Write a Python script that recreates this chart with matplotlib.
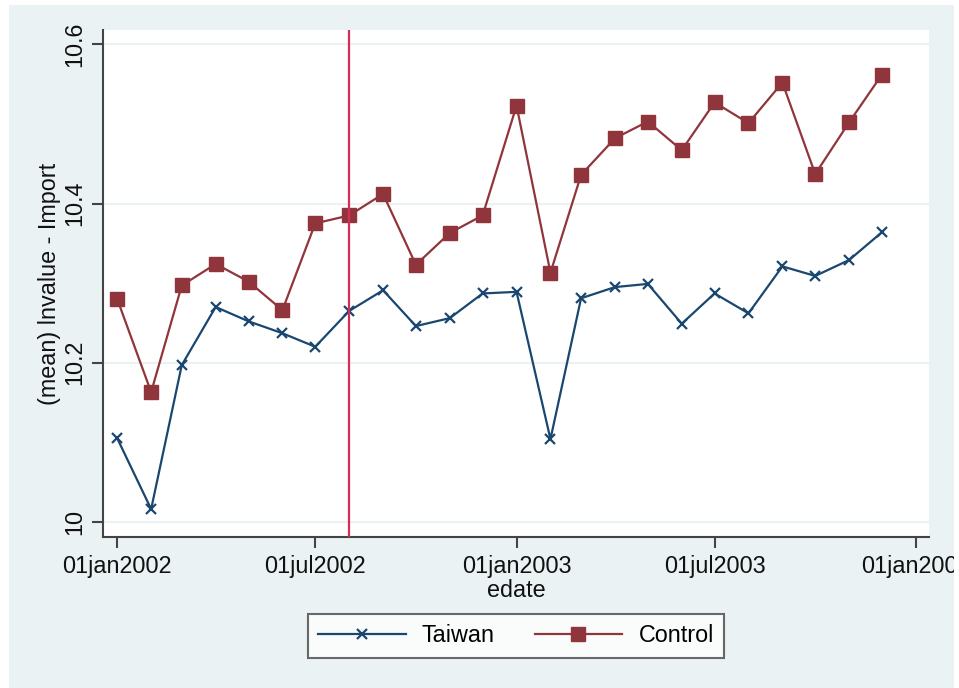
import matplotlib
matplotlib.use('Agg')
import matplotlib.pyplot as plt
from matplotlib.patches import Rectangle
from matplotlib.transforms import Bbox, TransformedBbox
import pandas as pd

plt.rcParams['font.family'] = ['Liberation Sans', 'DejaVu Sans']

# monthly means of log import value, Jan 2002 - Dec 2003
months = pd.date_range('2002-01-01', periods=24, freq='MS')
taiwan = [10.105, 10.016, 10.197, 10.270, 10.252, 10.237, 10.220, 10.265,
          10.291, 10.246, 10.256, 10.287, 10.289, 10.104, 10.281, 10.295,
          10.299, 10.249, 10.287, 10.262, 10.321, 10.309, 10.329, 10.364]
control = [10.280, 10.163, 10.297, 10.324, 10.302, 10.266, 10.375, 10.385,
           10.412, 10.323, 10.363, 10.385, 10.523, 10.313, 10.436, 10.482,
           10.503, 10.467, 10.527, 10.501, 10.552, 10.437, 10.502, 10.562]

xtick_dates = pd.to_datetime(['2002-01-01', '2002-07-01', '2003-01-01',
                              '2003-07-01', '2004-01-01'])
xtick_labels = ['01jan2002', '01jul2002', '01jan2003', '01jul2003', '01jan2004']
yticks = [10, 10.2, 10.4, 10.6]
ytick_labels = ['10', '10.2', '10.4', '10.6']
event_date = pd.Timestamp('2002-08-01')

navy = '#1a476f'
maroon = '#90353b'
bg = '#eaf2f3'
fs = 16.8

fig = plt.figure(figsize=(9.59, 6.88), dpi=100)
fig.patch.set_facecolor('white')
fig.patches.append(Rectangle((9 / 959, 0), 945 / 959, 683 / 688,
                             transform=fig.transFigure, facecolor=bg,
                             edgecolor='none', zorder=-10))

ax = fig.add_axes([103 / 959, 1 - 537 / 688, 826 / 959, 507 / 688])
ax.set_facecolor('white')

for y in yticks:
    ax.axhline(y, color=bg, lw=1.5, zorder=0)

ax.plot(months, taiwan, color=navy, lw=1.6, marker='x', ms=6.5, mew=1.6,
        label='Taiwan', zorder=3)
ax.plot(months, control, color=maroon, lw=1.6, marker='s', ms=10,
        label='Control', zorder=3)
ax.axvline(event_date, color='#d42f58', lw=1.6, zorder=4)

ax.set_xlim(pd.Timestamp('2001-12-19'), pd.Timestamp('2004-01-13'))
ax.set_ylim(9.981, 10.618)

ax.set_xticks(xtick_dates)
ax.set_xticklabels(xtick_labels)
ax.set_yticks(yticks)
ax.set_yticklabels(ytick_labels, rotation=90, va='center')

for s in ['top', 'right']:
    ax.spines[s].set_visible(False)
for s in ['left', 'bottom']:
    ax.spines[s].set_color('#444444')
    ax.spines[s].set_linewidth(1.5)
ax.tick_params(axis='both', direction='out', length=8, width=1.5,
               color='#444444', labelsize=fs, labelcolor='#111111')
ax.tick_params(axis='y', pad=4)
ax.tick_params(axis='x', pad=5)

ax.set_ylabel('(mean) lnvalue - Import', fontsize=fs, color='#111111',
              labelpad=2)
ax.set_xlabel('edate', fontsize=fs, color='#111111', labelpad=0.5)

# keep the last date label inside the grey region
clip = TransformedBbox(Bbox([[0, 0], [954 / 959, 1]]), fig.transFigure)
for lab in ax.get_xticklabels():
    lab.set_clip_box(clip)
    lab.set_clip_on(True)

leg = ax.legend(loc='center', bbox_to_anchor=(516 / 959, 1 - 636 / 688),
                bbox_transform=fig.transFigure, ncol=2, fontsize=fs,
                frameon=True, fancybox=False, edgecolor='#444444',
                handlelength=3.75, columnspacing=1.7, handletextpad=0.7,
                borderpad=0.45, borderaxespad=0)
leg.get_frame().set_linewidth(1.5)

fig.savefig('out.png', dpi=100)
